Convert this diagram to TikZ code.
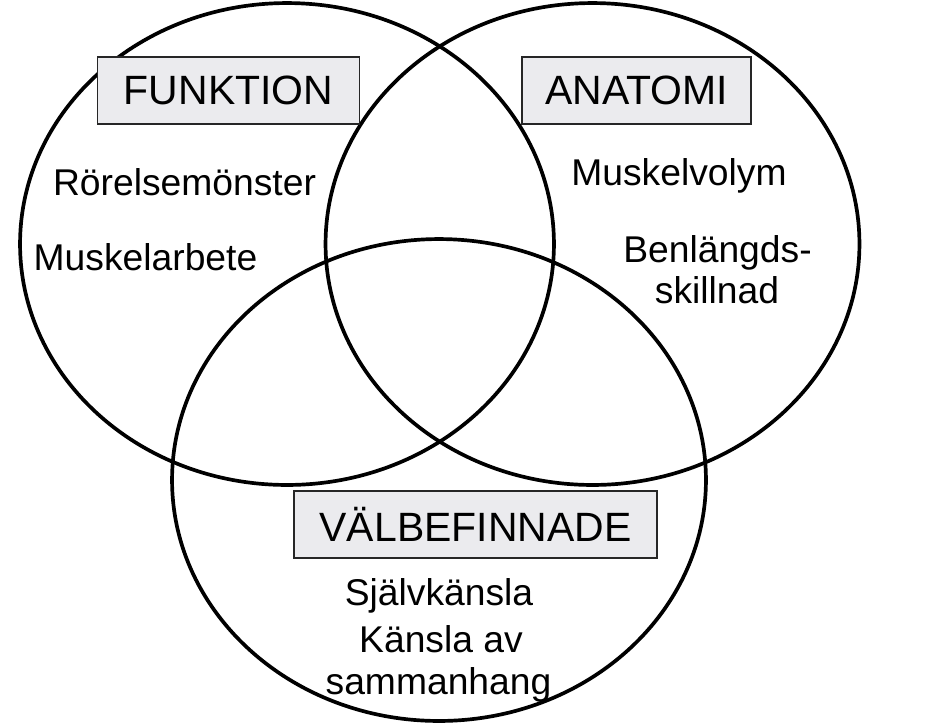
\documentclass[tikz,border=0pt]{standalone}
\usepackage{fontspec}
\setmainfont{Liberation Sans}
\usetikzlibrary{shapes.geometric}
\definecolor{boxgray}{RGB}{235,235,238}
\begin{document}
\begin{tikzpicture}[x=0.02cm,y=-0.02cm]
    \tikzset{area/.style = {shape = ellipse,draw=black,line width=2.1pt,minimum width=10.68cm,minimum height=9.64cm,inner sep = 0pt}, heading/.style = {draw=black!85,line width=0.75pt,fill=boxgray,minimum height=1.34cm,inner sep=0pt,font=\fontsize{23.3}{28}\selectfont}, item/.style = {inner sep=0pt,anchor=base,font=\fontsize{21.2}{25}\selectfont}}
    \useasboundingbox (0,0) rectangle (946,725);
    \def\x{287}
    \def\y{244}
     \node[area] (funk) at (\x,\y) {};
     \node[area] (anat) at (\x+305.5,\y) {};
     \node[area] (valb) at (\x+152,\y+236) {};

     \node[heading,minimum width=5.24cm] (funkhead) at (\x-58.5,\y-153.5) {FUNKTION};
     \node[heading,minimum width=4.58cm] (anathead) at (\x+349.5,\y-153.5) {ANATOMI};
     \node[heading,minimum width=7.26cm] (valbhead) at (\x+188.5,\y+280.5) {VÄLBEFINNADE};

     \node[item] (rorelse) at (\x-102.5,\y-49) {Rörelsemönster};
     \node[item] (arbete) at (\x-141.5,\y+26) {Muskelarbete};
     \node[item] (volym) at (\x+392,\y-59) {Muskelvolym};
     \node[item] (benlangd) at (\x+430.5,\y+18) {Benlängds-};
     \node[item] (skillnad) at (\x+430,\y+59) {skillnad};
     \node[item] (sjalv) at (\x+152,\y+361) {Självkänsla};
     \node[item] (kansla) at (\x+154,\y+408.5) {Känsla av};
     \node[item] (samman) at (\x+151.5,\y+450) {sammanhang};
\end{tikzpicture}
\end{document}
